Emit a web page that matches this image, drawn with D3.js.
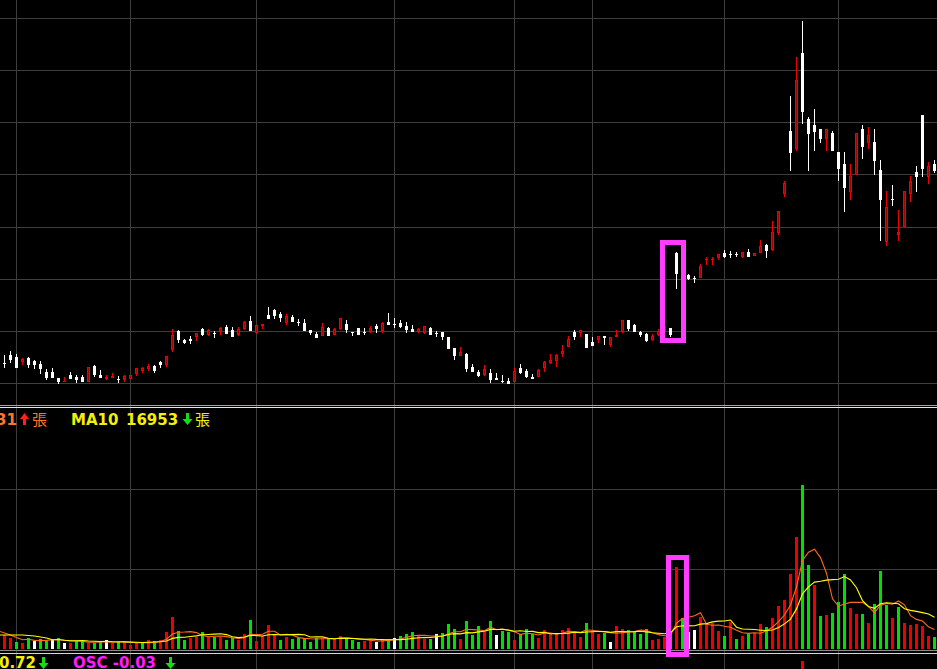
<!DOCTYPE html>
<html><head><meta charset="utf-8">
<script src="https://cdn.jsdelivr.net/npm/d3@7"></script>
<style>html,body{margin:0;padding:0;background:#000;overflow:hidden}svg{display:block}</style>
</head><body><svg id="c" width="937" height="669"></svg>
<script>
// ---- data (first entry is the partly hidden day before index 0) ----
const firstDay = -1;
const open = [10.96,
11.92,12.69,12.49,12.01,12.40,12.11,11.82,11.05,11.05,10.48,
10.10,10.77,10.58,10.58,10.10,11.63,10.77,10.38,10.48,10.38,
10.29,10.38,10.86,11.15,11.34,11.63,12.01,11.73,13.16,14.99,
14.12,14.22,14.41,15.18,14.60,14.80,14.99,15.37,15.08,14.60,
15.18,15.95,14.80,15.47,16.52,17.00,16.62,15.75,16.33,15.85,
15.75,15.08,14.70,14.51,15.27,14.60,15.18,15.66,14.89,15.27,
14.89,14.89,15.47,14.99,15.85,15.66,15.75,15.47,15.18,14.89,
14.80,15.27,14.80,14.89,14.41,13.36,12.59,12.78,11.53,11.05,
10.77,10.96,10.48,10.19,10.19,10.10,11.44,11.15,10.58,10.58,
11.44,11.92,12.11,12.78,13.45,14.89,14.80,14.70,13.93,14.12,
14.51,13.64,14.41,14.89,16.04,15.56,14.89,14.70,14.12,14.60,
14.99,15.27,22.47,21.03,20.36,20.07,20.07,21.80,21.80,21.99,
22.47,22.37,22.37,22.08,22.56,22.18,22.47,23.23,22.75,24.38,
28.13,34.17,32.44,41.65,35.32,34.74,34.36,33.40,33.98,32.15,
31.00,28.32,29.95,34.36,33.02,33.11,30.43,23.52,27.65,24.19,
24.96,28.13,30.23,35.70,29.76,31.00];
const high = [11.63,
12.69,13.07,12.78,12.40,12.49,12.21,12.11,11.34,11.44,10.48,
10.58,11.05,10.77,10.77,11.53,11.73,11.25,10.77,10.96,10.67,
10.77,10.77,11.44,11.53,11.82,11.73,12.11,12.59,15.18,15.08,
14.22,14.51,14.80,15.27,15.18,14.99,15.37,15.56,15.37,15.37,
15.95,16.43,15.56,15.66,17.29,17.10,16.81,16.62,16.52,16.14,
16.14,15.08,14.89,15.75,15.37,15.27,16.23,16.04,14.89,15.27,
15.27,15.47,15.66,15.85,16.71,16.23,16.04,15.85,15.56,15.27,
15.47,15.37,14.99,14.89,14.41,13.36,13.45,12.88,11.82,11.25,
11.73,11.34,10.96,10.77,10.48,11.44,11.82,11.34,10.86,11.34,
12.11,12.78,12.78,13.64,14.51,15.08,15.08,14.70,14.41,14.51,
14.51,14.41,15.08,16.04,16.04,15.66,14.99,14.80,14.70,15.18,
15.56,15.27,22.56,21.22,20.45,20.26,21.41,22.08,22.08,22.37,
22.75,22.66,22.56,22.56,22.85,22.47,23.71,23.33,25.54,26.49,
29.37,37.52,41.26,44.72,35.51,36.28,34.36,34.36,34.17,32.15,
32.15,31.00,33.98,34.74,34.55,34.36,31.39,28.41,28.99,26.59,
28.41,29.85,30.81,35.70,31.19,31.39];
const low = [10.86,
11.44,11.92,11.44,11.73,11.44,11.34,10.86,10.29,10.48,9.90,
10.10,10.38,10.00,10.10,10.10,10.58,10.48,10.29,10.48,10.00,
10.10,10.38,10.67,10.96,11.15,10.96,11.44,11.53,12.97,13.84,
13.74,13.74,14.03,14.51,14.51,14.32,14.60,14.70,14.41,14.51,
15.08,14.99,14.70,15.18,16.14,16.14,15.85,15.56,15.85,15.47,
14.99,14.60,14.32,14.51,14.51,14.60,15.08,14.80,14.51,14.60,
14.60,14.80,14.80,14.80,15.56,15.27,15.27,14.80,14.89,14.80,
14.70,14.60,14.41,14.12,13.26,12.21,12.59,11.05,11.05,10.58,
10.67,10.00,10.29,10.00,9.90,10.10,10.86,10.48,10.38,10.58,
11.05,11.82,11.53,12.49,13.45,14.12,14.41,13.36,13.55,13.84,
13.64,13.45,14.41,14.80,14.99,14.89,14.41,13.93,14.03,14.51,
14.89,14.41,19.01,20.07,19.88,19.59,20.07,21.32,21.32,21.80,
21.99,21.99,22.08,21.99,22.08,22.18,22.47,21.99,22.66,24.19,
27.84,30.33,32.25,34.84,30.33,32.25,33.02,32.25,32.25,29.37,
26.40,27.55,29.95,31.48,32.44,29.95,23.62,23.14,26.97,23.62,
24.96,27.36,28.32,29.76,29.08,30.14];
const close = [11.44,
11.82,12.21,11.44,12.30,11.73,11.73,11.34,10.48,10.48,10.10,
10.19,10.38,10.29,10.10,11.53,10.77,10.48,10.58,10.67,10.29,
10.67,10.77,11.44,11.44,11.63,11.15,11.73,12.59,14.60,14.12,
13.84,14.03,14.80,14.60,15.08,14.70,15.27,14.70,14.41,15.18,
15.85,14.99,15.56,15.66,16.14,16.43,16.23,16.43,15.85,15.75,
14.99,14.80,14.32,15.37,14.51,15.18,16.23,15.08,14.80,14.60,
14.80,15.27,15.18,15.75,15.56,15.56,15.37,15.08,14.89,15.18,
15.47,14.60,14.70,14.41,13.26,12.59,12.97,11.34,11.05,10.67,
11.34,10.29,10.29,10.10,9.90,11.15,10.96,10.58,10.38,11.25,
12.01,12.21,12.69,13.07,14.22,14.41,15.08,13.36,13.55,14.51,
14.32,14.41,14.60,16.04,15.18,14.89,14.60,14.03,14.51,14.99,
15.47,14.60,20.45,20.26,19.97,19.97,21.22,21.89,21.89,22.37,
22.08,22.28,22.28,22.56,22.08,22.47,23.14,22.66,24.48,26.49,
29.18,32.06,39.06,35.99,33.88,34.07,33.40,34.36,32.25,30.52,
28.70,29.85,33.98,32.63,33.78,31.29,27.55,26.88,27.55,24.48,
28.41,29.37,29.76,30.52,30.81,30.33];
// volume in 張
const volume = [4000,
7000,5500,3500,3000,5500,4000,5000,4000,4500,5500,
3000,3000,4000,4000,3000,3000,3500,4500,3000,4000,
3500,2000,3000,3000,4500,4000,4500,8500,16000,9000,
4500,5500,6000,8500,6000,6000,6000,4500,5500,4500,
7500,14500,4000,6500,12000,7500,4500,6000,5000,5500,
5500,3500,5500,5500,5500,5000,6500,5500,4500,3500,
4000,4500,3500,4500,5000,5500,6500,7500,8500,6500,
5000,5000,7500,8000,12500,10000,5000,14000,7000,11500,
8500,14000,7000,9000,8500,4500,7500,10000,7500,5500,
9500,7500,7500,9500,10500,8500,6000,13000,9000,7500,
8000,3500,11500,10000,9500,9000,7500,10000,4500,5000,
6000,8500,41000,15500,8500,9500,16000,12500,13000,9000,
6500,13500,5000,6500,7500,8000,12500,11000,15500,21500,
24500,37500,56000,82000,42000,32000,16500,17000,18000,23500,
37500,20500,17500,17500,13000,22500,39000,22000,15500,21000,
13000,12000,12500,11500,6500,6000];
// r = up vs previous close, g = down, w = unchanged
const volColor = "r" + "rrgrgwggwg" + "wrggrggwrg" + "rrrgrgrrrg" + "grrgrgrggr" + "rgrrrrgrgg" +
  "gggrgrrggg" + "rrwrgwgggr" + "rgwgggrggg" + "rgwggrgggr" + "rrrrrrrgrr" + "gwrrggggrr" +
  "rgrgwwrrrr" + "grgrgrrgrr" + "rrrggrgrgg" + "grrgrgggrg" + "rrrrrg";
// MA values whose window starts before the visible data
const ma5Head = [9000, 8000, 7000, 5750];
const ma10Head = [7000, 7000, 7000, 7000, 7000, 6750, 6500, 6000, 5500];
const priceTicks = [10, 15, 20, 25, 30, 35, 40, 45];
const volumeTicks = [40000, 80000];
const monthStarts = [2, 21, 42, 65, 85, 98, 120, 139];
const oscDays = [133];
const oscValues = [0.98];
const highlightDays = [111, 113];
const legendTop = [
  {text: "MA5 17231", color: "#ff7426"},
  {text: "MA10", color: "#f4f000"},
  {text: "16953", color: "#f4f000"}
];
const legendBottom = [
  {text: "DIF 0.72", color: "#f4f000"},
  {text: "OSC -0.03", color: "#ff1cff"}
];

// ---- drawing ----
const W = 937, H = 669, n = open.length;
const svg = d3.select("#c");
svg.append("rect").attr("width", W).attr("height", H).attr("fill", "#000");
const k = d => d - firstDay;
const x = d3.scaleBand().domain(d3.range(n)).range([-3, -3 + 6 * n]).padding(0);
const yP = d3.scaleLinear().domain([10, 45]).range([383, 18]);
const yV = d3.scaleLinear().domain([0, 80000]).range([649, 489]);
const yO = d3.scaleLinear().domain([0, 1]).range([700, 660]);
const grid = svg.append("g").attr("shape-rendering", "crispEdges").attr("stroke", "#3e3e3e").attr("stroke-width", 1);
priceTicks.forEach(t => {
  const y = Math.round(yP(t)) + 0.5;
  grid.append("line").attr("x1", 0).attr("x2", W).attr("y1", y).attr("y2", y);
});
volumeTicks.forEach(t => {
  const y = Math.round(yV(t)) + 0.5;
  grid.append("line").attr("x1", 0).attr("x2", W).attr("y1", y).attr("y2", y);
});
monthStarts.forEach(d => {
  const xx = x(k(d)) + 1.5;
  grid.append("line").attr("x1", xx).attr("x2", xx).attr("y1", 0).attr("y2", H);
});

// candles
const RED = "#f00000", DARKRED = "#a80000";
const cg = svg.append("g").attr("shape-rendering", "crispEdges");
d3.range(n).forEach(i => {
  const o = open[i], c = close[i], up = c > o;
  const col = up ? RED : "#ffffff";
  const x0 = x(i);
  const yH = Math.round(yP(high[i])), yL = Math.round(yP(low[i]));
  cg.append("rect").attr("x", x0 + 1).attr("y", yH).attr("width", 1).attr("height", Math.max(1, yL - yH)).attr("fill", col);
  const yT = Math.round(yP(Math.max(o, c))), yB = Math.round(yP(Math.min(o, c)));
  const h = Math.max(1, yB - yT);
  if (up && h >= 3) {
    cg.append("rect").attr("x", x0 + 0.5).attr("y", yT + 0.5).attr("width", 2).attr("height", h - 1)
      .attr("fill", DARKRED).attr("stroke", RED).attr("stroke-width", 1);
  } else {
    cg.append("rect").attr("x", x0).attr("y", yT).attr("width", 3).attr("height", h).attr("fill", col);
  }
});

// volume bars
const vcol = {r: "#ee0000", g: "#00e000", w: "#ffffff"};
const vg = svg.append("g").attr("shape-rendering", "crispEdges");
vg.selectAll("rect").data(volume).join("rect")
  .attr("x", (v, i) => x(i)).attr("width", 3)
  .attr("y", v => Math.round(yV(v))).attr("height", v => 649 - Math.round(yV(v)))
  .attr("fill", (v, i) => vcol[volColor[i]]);

// moving averages
function movingAvg(period, head) {
  return volume.map((v, i) => i < head.length ? head[i] : d3.mean(volume.slice(i - period + 1, i + 1)));
}
const ma5 = movingAvg(5, ma5Head), ma10 = movingAvg(10, ma10Head);
const line = d3.line().x((v, i) => x(i) + 1.5).y(v => yV(v));
svg.append("path").attr("d", line(ma5)).attr("fill", "none").attr("stroke", "#ff6a1c").attr("stroke-width", 1.1);
svg.append("path").attr("d", line(ma10)).attr("fill", "none").attr("stroke", "#ffff00").attr("stroke-width", 1.1);

// OSC panel (only the top of one bar is visible)
oscDays.forEach((d, j) => {
  const y = yO(oscValues[j]);
  svg.append("rect").attr("x", x(k(d))).attr("width", 3).attr("y", y).attr("height", yO(0) - y)
    .attr("fill", "#ee0000").attr("shape-rendering", "crispEdges");
});

// panel separators
const sep = svg.append("g").attr("shape-rendering", "crispEdges");
[[405.5, "#c98ac9"], [407.5, "#e6e6e6"], [650.5, "#8a8a8a"], [653.5, "#d6d6d6"]].forEach(([y, c]) =>
  sep.append("line").attr("x1", 0).attr("x2", W).attr("y1", y).attr("y2", y).attr("stroke", c));

// highlight boxes
const MAG = "#ff3cff";
const bx0 = x(k(highlightDays[0])) - 9, bx1 = x(k(highlightDays[1])) + 5;
const peak = k(112);
svg.append("rect").attr("x", bx0 + 2.5).attr("y", yP(high[peak]) - 12 + 2.5)
  .attr("width", bx1 - bx0 - 5).attr("height", (yP(close[k(111)]) + 8) - (yP(high[peak]) - 12) - 5)
  .attr("fill", "none").attr("stroke", MAG).attr("stroke-width", 5);
const vx0 = x(k(highlightDays[0])) - 3, vx1 = x(k(highlightDays[1])) + 8;
svg.append("rect").attr("x", vx0 + 2.5).attr("y", yV(volume[peak]) - 12 + 2.5)
  .attr("width", vx1 - vx0 - 5).attr("height", 657 - (yV(volume[peak]) - 12) - 5)
  .attr("fill", "none").attr("stroke", MAG).attr("stroke-width", 5);

// legends
const font = "'DejaVu Sans', sans-serif";
function txt(t, xx, y, color, anchor) {
  svg.append("text").attr("x", xx).attr("y", y).attr("fill", color).attr("text-anchor", anchor || "start")
    .attr("font-family", font).attr("font-weight", "bold").attr("font-size", 15).text(t);
}
function cjk(t, xx, y, color) {
  svg.append("text").attr("x", xx).attr("y", y).attr("fill", color)
    .attr("font-family", "'Noto Sans CJK TC', sans-serif").attr("font-size", 15).text(t);
}
function arrow(cx, top, bottom, up, color, hw) {
  const hh = 6, sw = 1.5;
  const d = up
    ? `M${cx},${top}L${cx + hw},${top + hh}L${cx + sw},${top + hh}L${cx + sw},${bottom}L${cx - sw},${bottom}L${cx - sw},${top + hh}L${cx - hw},${top + hh}Z`
    : `M${cx},${bottom}L${cx + hw},${bottom - hh}L${cx + sw},${bottom - hh}L${cx + sw},${top}L${cx - sw},${top}L${cx - sw},${bottom - hh}L${cx - hw},${bottom - hh}Z`;
  svg.append("path").attr("d", d).attr("fill", color);
}
txt(legendTop[0].text, 17, 425, legendTop[0].color, "end");
arrow(24.5, 413, 425, true, "#ff2020", 4.5);
cjk("張", 32, 425, legendTop[0].color);
txt(legendTop[1].text, 71, 425, legendTop[1].color);
txt(legendTop[2].text, 126, 425, legendTop[2].color);
arrow(187.5, 413, 425, false, "#10e010", 5);
cjk("張", 195, 425, legendTop[2].color);

txt(legendBottom[0].text, 36, 668, legendBottom[0].color, "end");
arrow(43.5, 657, 669, false, "#10e010", 5);
txt(legendBottom[1].text, 73, 668, legendBottom[1].color);
arrow(170.5, 657, 669, false, "#10e010", 5);
</script>
</body></html>
